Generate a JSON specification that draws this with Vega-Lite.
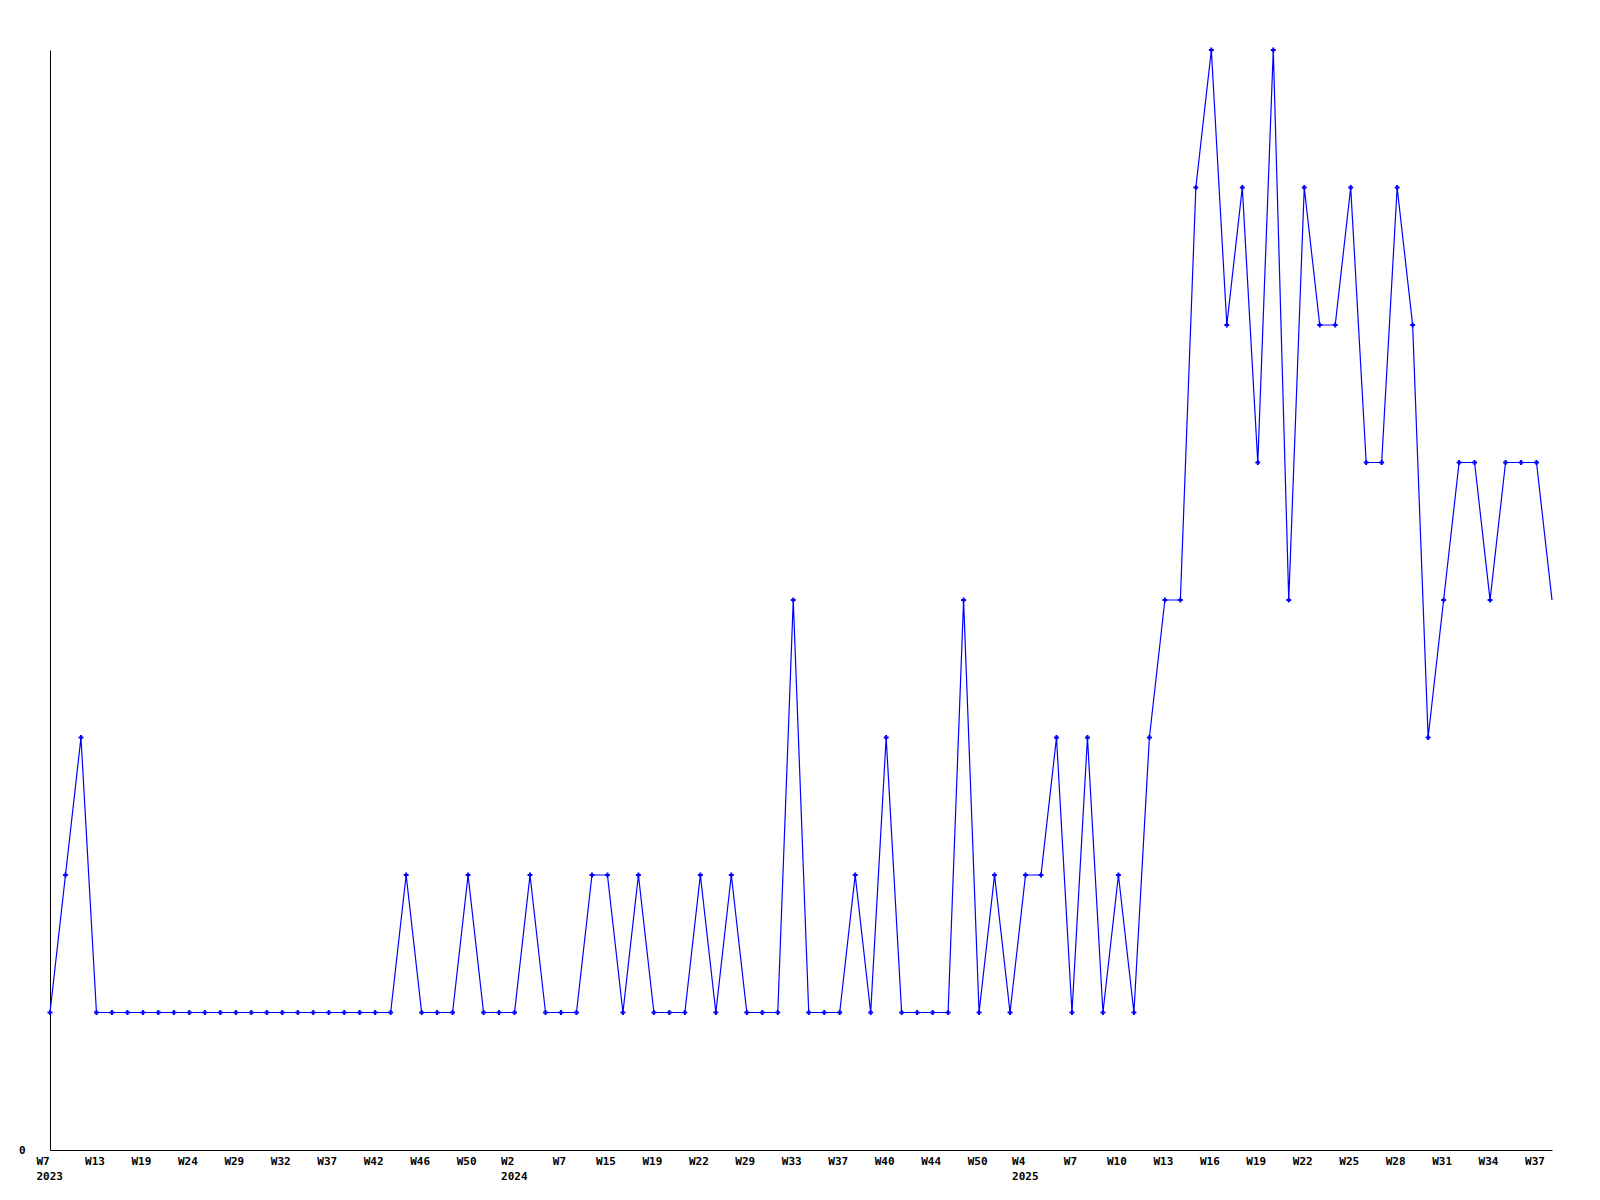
{
  "$schema": "https://vega.github.io/schema/vega-lite/v6.json",
  "width": 1502,
  "height": 1100,
  "autosize": {"type": "none"},
  "padding": {"left": 50, "top": 50, "right": 48, "bottom": 50},
  "background": "white",
  "config": {"view": {"stroke": null}},
  "data": {"values": [
    {"week": "2023-W7", "count": 1, "complete": true},
    {"week": "2023-W9", "count": 2, "complete": true},
    {"week": "2023-W11", "count": 3, "complete": true},
    {"week": "2023-W13", "count": 1, "complete": true},
    {"week": "2023-W15", "count": 1, "complete": true},
    {"week": "2023-W17", "count": 1, "complete": true},
    {"week": "2023-W19", "count": 1, "complete": true},
    {"week": "2023-W20", "count": 1, "complete": true},
    {"week": "2023-W22", "count": 1, "complete": true},
    {"week": "2023-W24", "count": 1, "complete": true},
    {"week": "2023-W26", "count": 1, "complete": true},
    {"week": "2023-W27", "count": 1, "complete": true},
    {"week": "2023-W29", "count": 1, "complete": true},
    {"week": "2023-W30", "count": 1, "complete": true},
    {"week": "2023-W31", "count": 1, "complete": true},
    {"week": "2023-W32", "count": 1, "complete": true},
    {"week": "2023-W34", "count": 1, "complete": true},
    {"week": "2023-W35", "count": 1, "complete": true},
    {"week": "2023-W37", "count": 1, "complete": true},
    {"week": "2023-W39", "count": 1, "complete": true},
    {"week": "2023-W40", "count": 1, "complete": true},
    {"week": "2023-W42", "count": 1, "complete": true},
    {"week": "2023-W43", "count": 1, "complete": true},
    {"week": "2023-W45", "count": 2, "complete": true},
    {"week": "2023-W46", "count": 1, "complete": true},
    {"week": "2023-W47", "count": 1, "complete": true},
    {"week": "2023-W49", "count": 1, "complete": true},
    {"week": "2023-W50", "count": 2, "complete": true},
    {"week": "2023-W51", "count": 1, "complete": true},
    {"week": "2023-W52", "count": 1, "complete": true},
    {"week": "2024-W2", "count": 1, "complete": true},
    {"week": "2024-W4", "count": 2, "complete": true},
    {"week": "2024-W5", "count": 1, "complete": true},
    {"week": "2024-W7", "count": 1, "complete": true},
    {"week": "2024-W10", "count": 1, "complete": true},
    {"week": "2024-W12", "count": 2, "complete": true},
    {"week": "2024-W15", "count": 2, "complete": true},
    {"week": "2024-W17", "count": 1, "complete": true},
    {"week": "2024-W18", "count": 2, "complete": true},
    {"week": "2024-W19", "count": 1, "complete": true},
    {"week": "2024-W20", "count": 1, "complete": true},
    {"week": "2024-W21", "count": 1, "complete": true},
    {"week": "2024-W22", "count": 2, "complete": true},
    {"week": "2024-W25", "count": 1, "complete": true},
    {"week": "2024-W27", "count": 2, "complete": true},
    {"week": "2024-W29", "count": 1, "complete": true},
    {"week": "2024-W31", "count": 1, "complete": true},
    {"week": "2024-W32", "count": 1, "complete": true},
    {"week": "2024-W33", "count": 4, "complete": true},
    {"week": "2024-W35", "count": 1, "complete": true},
    {"week": "2024-W36", "count": 1, "complete": true},
    {"week": "2024-W37", "count": 1, "complete": true},
    {"week": "2024-W38", "count": 2, "complete": true},
    {"week": "2024-W39", "count": 1, "complete": true},
    {"week": "2024-W40", "count": 3, "complete": true},
    {"week": "2024-W41", "count": 1, "complete": true},
    {"week": "2024-W43", "count": 1, "complete": true},
    {"week": "2024-W44", "count": 1, "complete": true},
    {"week": "2024-W46", "count": 1, "complete": true},
    {"week": "2024-W48", "count": 4, "complete": true},
    {"week": "2024-W50", "count": 1, "complete": true},
    {"week": "2024-W52", "count": 2, "complete": true},
    {"week": "2025-W2", "count": 1, "complete": true},
    {"week": "2025-W4", "count": 2, "complete": true},
    {"week": "2025-W5", "count": 2, "complete": true},
    {"week": "2025-W6", "count": 3, "complete": true},
    {"week": "2025-W7", "count": 1, "complete": true},
    {"week": "2025-W8", "count": 3, "complete": true},
    {"week": "2025-W9", "count": 1, "complete": true},
    {"week": "2025-W10", "count": 2, "complete": true},
    {"week": "2025-W11", "count": 1, "complete": true},
    {"week": "2025-W12", "count": 3, "complete": true},
    {"week": "2025-W13", "count": 4, "complete": true},
    {"week": "2025-W14", "count": 4, "complete": true},
    {"week": "2025-W15", "count": 7, "complete": true},
    {"week": "2025-W16", "count": 8, "complete": true},
    {"week": "2025-W17", "count": 6, "complete": true},
    {"week": "2025-W18", "count": 7, "complete": true},
    {"week": "2025-W19", "count": 5, "complete": true},
    {"week": "2025-W20", "count": 8, "complete": true},
    {"week": "2025-W21", "count": 4, "complete": true},
    {"week": "2025-W22", "count": 7, "complete": true},
    {"week": "2025-W23", "count": 6, "complete": true},
    {"week": "2025-W24", "count": 6, "complete": true},
    {"week": "2025-W25", "count": 7, "complete": true},
    {"week": "2025-W26", "count": 5, "complete": true},
    {"week": "2025-W27", "count": 5, "complete": true},
    {"week": "2025-W28", "count": 7, "complete": true},
    {"week": "2025-W29", "count": 6, "complete": true},
    {"week": "2025-W30", "count": 3, "complete": true},
    {"week": "2025-W31", "count": 4, "complete": true},
    {"week": "2025-W32", "count": 5, "complete": true},
    {"week": "2025-W33", "count": 5, "complete": true},
    {"week": "2025-W34", "count": 4, "complete": true},
    {"week": "2025-W35", "count": 5, "complete": true},
    {"week": "2025-W36", "count": 5, "complete": true},
    {"week": "2025-W37", "count": 5, "complete": true},
    {"week": "2025-W38", "count": 4, "complete": false}
  ]},
  "encoding": {
    "x": {
      "field": "week",
      "type": "ordinal",
      "sort": null,
      "scale": {"type": "point", "padding": 0},
      "axis": {
        "title": null,
        "values": ["2023-W7","2023-W13","2023-W19","2023-W24","2023-W29","2023-W32","2023-W37","2023-W42","2023-W46","2023-W50","2024-W2","2024-W7","2024-W15","2024-W19","2024-W22","2024-W29","2024-W33","2024-W37","2024-W40","2024-W44","2024-W50","2025-W4","2025-W7","2025-W10","2025-W13","2025-W16","2025-W19","2025-W22","2025-W25","2025-W28","2025-W31","2025-W34","2025-W37"],
        "labelExpr": "indexof(['2023-W7','2024-W2','2025-W4'], datum.value) >= 0 ? [split(datum.value, '-')[1], split(datum.value, '-')[0]] : split(datum.value, '-')[1]",
        "labelAlign": {"condition": {"test": "indexof(['2023-W7','2024-W2','2025-W4'], datum.value) >= 0", "value": "left"}, "value": "center"},
        "labelOffset": {"condition": {"test": "indexof(['2023-W7','2024-W2','2025-W4'], datum.value) >= 0", "value": -14}, "value": -2},
        "labelAngle": 0,
        "labelOverlap": false,
        "labelFont": "DejaVu Sans Mono",
        "labelFontWeight": "bold",
        "labelFontSize": 11,
        "labelColor": "black",
        "labelLineHeight": 15,
        "labelPadding": 5,
        "labelBaseline": "top",
        "ticks": false,
        "grid": false,
        "domainColor": "black",
        "domainWidth": 1
      }
    },
    "y": {
      "field": "count",
      "type": "quantitative",
      "scale": {"domain": [0, 8], "nice": false, "zero": true},
      "axis": {
        "title": null,
        "values": [0],
        "ticks": false,
        "grid": false,
        "labelFont": "DejaVu Sans Mono",
        "labelFontWeight": "bold",
        "labelFontSize": 11,
        "labelColor": "black",
        "labelPadding": 25,
        "domainColor": "black",
        "domainWidth": 1
      }
    }
  },
  "layer": [
    {"mark": {"type": "line", "color": "#0000ff", "strokeWidth": 1.2}},
    {
      "transform": [{"filter": "datum.complete"}],
      "mark": {"type": "point", "shape": "cross", "filled": true, "size": 24, "color": "#0000ff", "opacity": 1}
    }
  ]
}
